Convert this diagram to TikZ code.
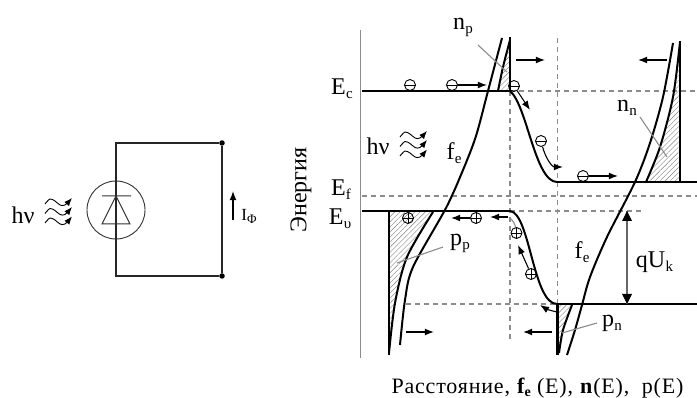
\documentclass[tikz,border=0pt]{standalone}
\usepackage{fontspec}
\setmainfont{Liberation Serif}
\usetikzlibrary{arrows.meta,patterns.meta}
\newcommand{\lbsub}[2]{#1\kern.3pt\raisebox{-4pt}{\fontsize{15}{15}\selectfont #2}}
\begin{document}
\begin{tikzpicture}[x=1pt,y=-1pt,
wire/.style={line width=1.1pt,black!85},
band/.style={line width=2.2pt},
curve/.style={line width=2pt,line join=round},
guide/.style={line width=1.4pt,black!45,dash pattern=on 5pt off 4pt},
leader/.style={line width=1.1pt,black!45},
hatch/.style={pattern={Lines[angle=45,distance=3.6pt,line width=.4pt]},pattern color=black!50},
arr/.style={-{Latex[length=3.2mm,width=2.4mm]},line width=1.1pt},
lbl/.style={font=\fontsize{24}{24}\selectfont,inner sep=0pt},
elec/.style={circle,draw,line width=.9pt,inner sep=0pt,minimum size=11pt,path picture={\draw (path picture bounding box.west) -- (path picture bounding box.east);}},
hole/.style={elec,path picture={\draw (path picture bounding box.west) -- (path picture bounding box.east) (path picture bounding box.north) -- (path picture bounding box.south);}},
dot/.style={circle,fill=black,inner sep=0pt,minimum size=5.5pt},
photon/.pic={
  \foreach \dy/\ey in {0/-6,9.5/-6.5,19/-6.5}
    \draw[-{Latex[length=2.8mm,width=2.2mm]},line width=.9pt] plot[smooth] coordinates {(0,\dy) (5,\dy-5) (10,\dy-3) (15,\dy+1) (20,\dy+1) (27,\dy+\ey)};
}]
\useasboundingbox (0,0) rectangle (697,398);
% circuit
\node[dot] (top) at (222,143) {};
\node[dot] (bot) at (222,276) {};
\node[circle,draw,line width=.9pt,black!80,minimum size=58pt,inner sep=0pt] (pd) at (116,210) {};
\coordinate (apex) at (116,196);
\coordinate (tl) at (116,143);
\coordinate (bl) at (116,276);
\draw[wire] (top) -- (tl) -- (bl) -- (bot) -- (top);
\draw[line width=1pt,black!80] (102,196) -- (131,196) (apex) -- (102,224) -- (130,224) -- cycle;
\node[lbl] (hv1) at (23,215) {hν};
\pic at (45,204) {photon};
\coordinate (i1) at (233,220);
\coordinate (i2) at (233,191);
\draw[arr] (i1) -- (i2);
\node[inner sep=0pt,font=\fontsize{17}{17}\selectfont] (iph) at (249,216) {I\raisebox{-3pt}{\fontsize{13}{13}\selectfont Φ}};
% axis
\draw[line width=1.6pt,black!45] (360.5,30) -- (360.5,358);
% hatched regions
\fill[hatch] plot[smooth] coordinates {(498,91) (503,67) (510,42)} -- (510,91) -- cycle;
\fill[hatch] plot[smooth] coordinates {(646,182) (660,147) (673,97) (680,42)} -- (680,182) -- cycle;
\fill[hatch] plot[smooth] coordinates {(433,212) (407,257) (395,303) (389,353)} -- (389,212) -- cycle;
\fill[hatch] plot[smooth] coordinates {(572,305) (563,330) (559,353)} -- (557.5,305) -- cycle;
% guides
\draw[guide] (510,91) -- (697,91);
\draw[guide] (362,196) -- (697,196);
\draw[guide] (510,211) -- (643,211);
\draw[guide] (406,304) -- (557,304);
\draw[guide] (510,91) -- (510,340);
\draw[guide] (557.5,38) -- (557.5,304);
% bands
\draw[band] (362,91) -- (510,91) -- (510,37);
\draw[band] (362,211) -- (510,211);
\draw[band] (557,182) -- (697,182);
\draw[band] (557,304) -- (697,304);
\draw[band] (680,182) -- (680,41);
\draw[band] (389,211) -- (389,355);
\draw[band] (557.5,304) -- (557.5,355);
\draw[curve] (510,91) .. controls (527,105) and (535,182) .. (557,182);
\draw[curve] (510,211) .. controls (530,213) and (533,304) .. (557,304);
% carrier distributions
\draw[curve] plot[smooth] coordinates {(498,91) (503,67) (510,40)};
\draw[curve] plot[smooth,tension=.5] coordinates {(400,345) (405,300) (413,267) (446,208) (463,170) (476,136) (488,91) (502,38)};
\draw[curve] plot[smooth] coordinates {(433,212) (407,257) (395,303) (389,353)};
\draw[curve] plot[smooth,tension=.5] coordinates {(567,355) (575,330) (582,305) (590,277) (607,237) (635,182) (650,143) (663,97) (673,43)};
\draw[curve] plot[smooth] coordinates {(572,305) (563,330) (559,353)};
\draw[curve] plot[smooth] coordinates {(646,182) (660,147) (673,97) (680,42)};
% electrons
\node[elec] (e1) at (410,85) {};
\node[elec] (e2) at (452,85) {};
\node[elec] (e3) at (514,86) {};
\node[elec] (e4) at (541,141) {};
\node[elec] (e5) at (583,176) {};
\coordinate (e2a) at (487,85);
\coordinate (e3a) at (530,110);
\coordinate (e4a) at (563,167);
\coordinate (e5a) at (618,176);
\draw[arr] (e2) -- (e2a);
\draw[arr] (e3) -- (e3a);
\draw[arr] (e4) to[out=-75,in=180] (e4a);
\draw[arr] (e5) -- (e5a);
% holes
\node[hole] (h1) at (408,218) {};
\node[hole] (h2) at (476,218) {};
\node[hole] (h3) at (516.5,233) {};
\node[hole] (h4) at (531,274) {};
\coordinate (h2a) at (451,218);
\coordinate (h3s) at (508,217);
\coordinate (h3a) at (490,217);
\coordinate (h4a) at (518,245);
\coordinate (h5s) at (557,312);
\coordinate (h5a) at (540,305);
\draw[arr] (h2) -- (h2a);
\draw[arr] (h3s) -- (h3a);
\draw[arr] (h4) -- (h4a);
\draw[arr] (h5s) to[bend left=10] (h5a);
\draw[leader] (510,218) to[bend left=15] (h3);
% field arrows
\foreach \sx/\ex/\yy in {516/545/60,667/638/60,406/434/332,552/523/332}
  \draw[arr] (\sx,\yy) -- (\ex,\yy);
% barrier height
\coordinate (q1) at (627,211);
\coordinate (q2) at (627,304);
\draw[line width=1.2pt,black!60] (q1) -- (q2);
\fill (q1) -- ++(-5,10) -- ++(10,0) -- cycle (q2) -- ++(-5,-10) -- ++(10,0) -- cycle;
% leaders
\draw[leader] (478,45) -- (507,72);
\draw[leader] (640,117) -- (667,157);
\draw[leader] (443,247) -- (397,263);
\draw[leader] (597,323) -- (562,333);
% labels
\node[lbl] (ec) at (342,89) {\lbsub{E}{c}};
\node[lbl] (ef) at (341,190) {\lbsub{E}{f}};
\node[lbl] (ev) at (340,219) {\lbsub{E}{υ}};
\node[lbl] (np) at (463,27) {\lbsub{n}{p}};
\node[lbl] (nn) at (627,108) {\lbsub{n}{n}};
\node[lbl] (fe1) at (454,153) {\lbsub{f}{e}};
\node[lbl] (fe2) at (582,252) {\lbsub{f}{e}};
\node[lbl] (pp) at (460,243) {\lbsub{p}{p}};
\node[lbl] (pn) at (612,323) {\lbsub{p}{n}};
\node[lbl] (qu) at (654.5,262) {q\lbsub{U}{k}};
\node[lbl] (hv2) at (378,146) {hν};
\pic at (400,137) {photon};
\node[lbl,rotate=90] (yl) at (301,190) {Энергия};
\node[inner sep=0pt,font=\fontsize{22}{22}\selectfont\addfontfeature{LetterSpace=3.7}] (xl) at (537.5,388) {Расстояние, \textbf{f\raisebox{-3pt}{\fontsize{14}{14}\selectfont e}} (E), \textbf{n}(E), \ p(E)};
\end{tikzpicture}
\end{document}
